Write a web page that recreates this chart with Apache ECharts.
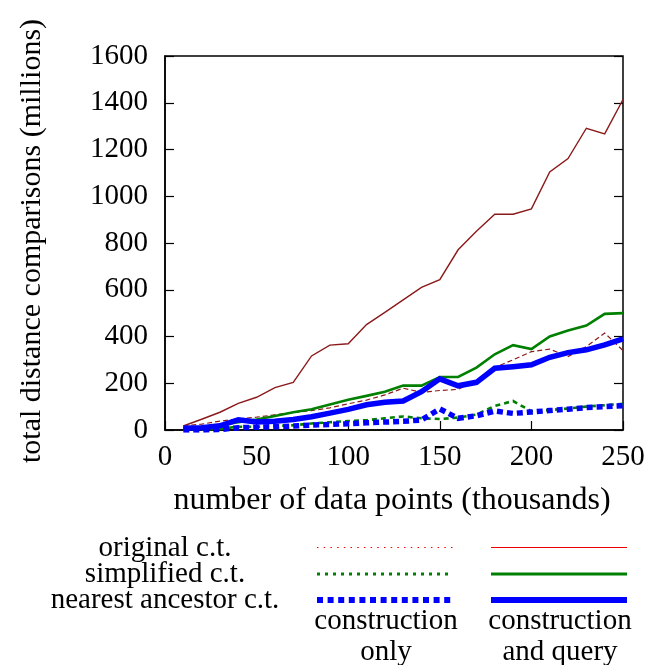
<!DOCTYPE html>
<html>
<head>
<meta charset="utf-8">
<script src="https://cdn.jsdelivr.net/npm/echarts@6/dist/echarts.min.js"></script>
<style>
  html, body { margin: 0; padding: 0; background: #fff; }
  #chart { width: 651px; height: 665px; }
</style>
</head>
<body>
<div id="chart"></div>
<script>
// Number of data points (thousands)
const points = [10, 20, 30, 40, 50, 60, 70, 80, 90, 100, 110, 120, 130, 140, 150, 160, 170, 180, 190, 200, 210, 220, 230, 240, 250];

// Total distance comparisons (millions)
const originalConstruction = [17, 25, 38, 47, 55, 65, 75, 83, 95, 112, 128, 150, 179, 161, 169, 174, 210, 268, 300, 335, 346, 314, 357, 415, 340];
const originalQuery        = [17, 46, 76, 114, 140, 181, 204, 317, 363, 369, 451, 503, 557, 610, 643, 771, 850, 923, 923, 946, 1104, 1161, 1291, 1267, 1414];
const simplifiedConstruction = [0, 2, 5, 14, 14, 17, 20, 28, 33, 38, 42, 50, 58, 50, 47, 53, 66, 103, 124, 80, 85, 92, 100, 106, 112];
const simplifiedQuery        = [8, 12, 20, 33, 45, 60, 76, 89, 109, 129, 146, 164, 190, 190, 227, 227, 267, 324, 363, 346, 400, 426, 447, 497, 500];
const ancestorConstruction = [0, 0, 2, 10, 12, 14, 17, 21, 24, 27, 31, 34, 37, 43, 90, 50, 61, 81, 71, 77, 83, 89, 96, 100, 104];
const ancestorQuery        = [8, 10, 18, 44, 34, 37, 45, 57, 72, 88, 108, 119, 124, 164, 219, 189, 204, 264, 271, 279, 311, 331, 343, 364, 390];

const xTicks = [0, 50, 100, 150, 200, 250];
const yTicks = [0, 200, 400, 600, 800, 1000, 1200, 1400, 1600];

const legendRows = ['original c.t.', 'simplified c.t.', 'nearest ancestor c.t.'];
const legendColumns = [['construction', 'only'], ['construction', 'and query']];

const FONT = '"Liberation Serif", "Times New Roman", serif';
const RED = '#8b1a1a', GREEN = '#008000', BLUE = '#0000ff';

function pairs(ys) { return points.map((x, i) => [x, ys[i]]); }

function lineSeries(name, ys, color, width, dash, z) {
  return {
    name, type: 'line', data: pairs(ys), symbol: 'none', z,
    lineStyle: { color, width, type: dash || 'solid', cap: 'butt', join: 'miter' },
    emphasis: { disabled: true }
  };
}

const chart = echarts.init(document.getElementById('chart'), null, { renderer: 'canvas' });

// Legend key: one row per tree variant, two columns of line samples
const legendY = [547.5, 574, 600];
const legendStyles = [
  { color: '#f00000', w: 1, dash: [1.5, 5.2] },
  { color: GREEN, w: 3, dash: [3, 5] },
  { color: BLUE, w: 6, dash: [6, 4.6] }
];

const graphic = [
  { type: 'text', x: 32, y: 241, rotation: Math.PI / 2,
    style: { text: 'total distance comparisons (millions)', font: '30px ' + FONT, fill: '#000', align: 'center', verticalAlign: 'middle' } },
  { type: 'text', x: 392, y: 501,
    style: { text: 'number of data points (thousands)', font: '32px ' + FONT, fill: '#000', align: 'center', verticalAlign: 'middle' } }
];
legendRows.forEach((label, i) => {
  const s = legendStyles[i];
  graphic.push({ type: 'text', x: 165, y: Math.round(legendY[i]),
    style: { text: label, font: '29px ' + FONT, fill: '#000', align: 'center', verticalAlign: 'middle' } });
  graphic.push({ type: 'line', shape: { x1: 317, y1: legendY[i], x2: 453, y2: legendY[i] },
    style: { stroke: s.color, lineWidth: s.w, lineDash: s.dash, lineCap: 'butt' } });
  graphic.push({ type: 'line', shape: { x1: 491, y1: legendY[i], x2: 627, y2: legendY[i] },
    style: { stroke: s.color, lineWidth: s.w, lineCap: 'butt' } });
});
[386, 560].forEach((cx, c) => {
  legendColumns[c].forEach((word, r) => {
    graphic.push({ type: 'text', x: cx, y: 621 + r * 31,
      style: { text: word, font: '29px ' + FONT, fill: '#000', align: 'center', verticalAlign: 'middle' } });
  });
});

chart.setOption({
  animation: false,
  backgroundColor: '#fff',
  grid: { left: 165, top: 56, width: 458, height: 374, show: true, borderColor: '#000', borderWidth: 1.5, backgroundColor: 'transparent' },
  xAxis: {
    type: 'value', min: xTicks[0], max: xTicks[xTicks.length - 1], interval: 50,
    axisLine: { show: true, onZero: false, lineStyle: { color: '#000', width: 1.5 } },
    axisTick: { show: true, inside: true, length: 9, lineStyle: { color: '#000', width: 1.2 } },
    splitLine: { show: false },
    axisLabel: { fontFamily: FONT, fontSize: 29, color: '#000', margin: 13,
      formatter: v => xTicks.includes(v) ? String(v) : '' }
  },
  yAxis: [{
    type: 'value', min: yTicks[0], max: yTicks[yTicks.length - 1], interval: 200,
    axisLine: { show: true, lineStyle: { color: '#000', width: 1.5 } },
    axisTick: { show: true, inside: true, length: 9, lineStyle: { color: '#000', width: 1.2 } },
    splitLine: { show: false },
    axisLabel: { fontFamily: FONT, fontSize: 29, color: '#000', margin: 17,
      formatter: v => yTicks.includes(v) ? String(v) : '' }
  }, {
    type: 'value', position: 'right', min: yTicks[0], max: yTicks[yTicks.length - 1], interval: 200,
    axisLine: { show: false },
    axisTick: { show: true, inside: true, length: 9, lineStyle: { color: '#000', width: 1.2 } },
    splitLine: { show: false },
    axisLabel: { show: false }
  }],
  series: [
    lineSeries('original c.t. construction only', originalConstruction, RED, 1.2, [5, 3], 2),
    lineSeries('original c.t. construction and query', originalQuery, RED, 1.4, null, 3),
    lineSeries('simplified c.t. construction only', simplifiedConstruction, GREEN, 2.6, [5, 4], 4),
    lineSeries('simplified c.t. construction and query', simplifiedQuery, GREEN, 2.6, null, 5),
    lineSeries('nearest ancestor c.t. construction only', ancestorConstruction, BLUE, 5.5, [6, 4], 6),
    lineSeries('nearest ancestor c.t. construction and query', ancestorQuery, BLUE, 5.5, null, 7)
  ],
  graphic
});
</script>
</body>
</html>
